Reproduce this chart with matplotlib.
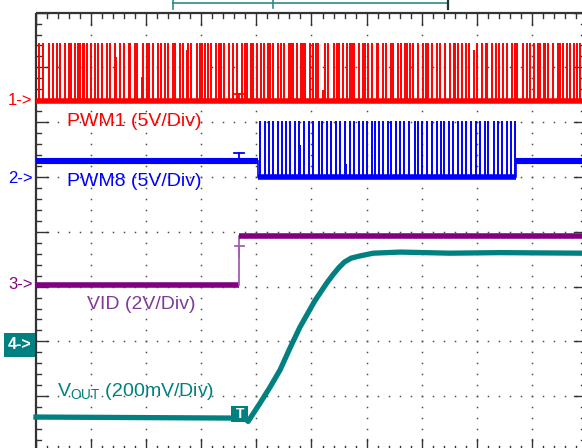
import matplotlib
matplotlib.use("Agg")
import matplotlib.pyplot as plt
import numpy as np
from matplotlib.patches import Rectangle

plt.rcParams['font.family'] = ['Liberation Sans', 'DejaVu Sans']

# ---------------- data (time and level in screen divisions) ----------------
channel_names = ["1->", "2->", "3->", "4->"]
channel_levels = [6.39, 4.98, 3.03, 2.01]
channel_colors = ["#ff0000", "#0000ff", "#800080", "#008080"]

trigger_t = 3.69

# PWM1: pulse times, baseline, amplitude
pwm1_base = 6.39
pwm1_amp = 1.06
pwm1_t = [0.05, 0.12, 0.23, 0.30, 0.38, 0.44, 0.52, 0.60, 0.63, 0.70, 0.77, 0.80,
          0.86, 0.88, 0.92, 1.00, 1.08, 1.13, 1.19, 1.28, 1.34, 1.43, 1.52, 1.60,
          1.68, 1.71, 1.79, 1.84, 1.95, 2.01, 2.06, 2.13, 2.21, 2.26, 2.34, 2.40,
          2.48, 2.53, 2.61, 2.67, 2.76, 2.82, 2.92, 2.98, 3.01, 3.07, 3.12, 3.18,
          3.27, 3.33, 3.36, 3.42, 3.51, 3.57, 3.65, 3.73, 3.79, 3.83, 3.91, 3.93,
          4.02, 4.08, 4.13, 4.21, 4.25, 4.31, 4.39, 4.44, 4.51, 4.59, 4.63, 4.67,
          4.73, 4.81, 4.85, 4.89, 4.97, 5.02, 5.08, 5.12, 5.25, 5.30, 5.40, 5.46,
          5.50, 5.58, 5.64, 5.70, 5.74, 5.77, 5.86, 5.94, 5.98, 6.03, 6.10, 6.18,
          6.21, 6.29, 6.36, 6.44, 6.48, 6.57, 6.62, 6.69, 6.73, 6.79, 6.85, 6.93,
          7.03, 7.07, 7.11, 7.19, 7.27, 7.34, 7.42, 7.51, 7.59, 7.61, 7.66, 7.73,
          7.80, 7.86, 8.01, 8.09, 8.17, 8.19, 8.28, 8.34, 8.41, 8.48, 8.54, 8.64,
          8.69, 8.73, 8.84, 8.91, 8.97, 9.04, 9.11, 9.15, 9.22, 9.24, 9.30, 9.39,
          9.47, 9.51, 9.57, 9.64, 9.70, 9.76, 9.81, 9.87]
pwm1_partial_t = [1.45, 1.92, 2.74, 5.21, 7.94]
pwm1_partial_h = [0.75, 0.41, 0.88, 0.18, 0.88]

# PWM8: idle level, burst window, pulse times
pwm8_base = 5.00
pwm8_idle = 5.29
pwm8_amp = 1.02
pwm8_burst = [4.03, 8.71]
pwm8_t = [4.07, 4.15, 4.22, 4.31, 4.39, 4.46, 4.54, 4.61, 4.70, 4.78, 4.86, 4.96,
          5.03, 5.13, 5.19, 5.29, 5.36, 5.44, 5.52, 5.60, 5.69, 5.77, 5.86, 5.94,
          6.00, 6.10, 6.15, 6.22, 6.30, 6.39, 6.44, 6.54, 6.60, 6.68, 6.77, 6.87,
          6.94, 7.01, 7.10, 7.18, 7.27, 7.35, 7.41, 7.50, 7.57, 7.65, 7.74, 7.81,
          7.89, 7.98, 8.06, 8.15, 8.21, 8.31, 8.38, 8.46, 8.55, 8.62, 8.69]
pwm8_partial_t = [4.80, 5.63]
pwm8_partial_h = [0.57, 0.23]

# VID step
vid_low = 3.03
vid_high = 3.92

# VOUT soft-start ramp
vout_t = [0.00, 3.79, 3.85, 4.07, 4.25, 4.43, 4.61, 4.79, 5.06, 5.28, 5.40, 5.50,
          5.60, 5.72, 5.88, 6.12, 6.61, 7.51, 8.42, 9.91]
vout_v = [0.62, 0.60, 0.54, 0.88, 1.17, 1.48, 1.88, 2.26, 2.74, 3.07, 3.23, 3.35,
          3.45, 3.52, 3.56, 3.61, 3.63, 3.61, 3.62, 3.61]

labels = ["PWM1 (5V/Div)", "PWM8 (5V/Div)", "VID (2V/Div)",
          r"V$_{\mathregular{OUT}}$ (200mV/Div)"]
label_pos = [(0.563, 6.02), (0.563, 4.92), (0.926, 2.68), (0.381, 1.08)]
label_colors = ["#ff0000", "#0000ff", "#7d3c98", "#008080"]

# ---------------- figure ----------------
fig = plt.figure(figsize=(5.82, 4.48), dpi=100)
ax = fig.add_axes([0, 0, 1, 1])
ax.set_xlim(-0.653, 9.909)
ax.set_ylim(0.055, 8.230)
ax.axis("off")

# graticule dots
dot_c = "#505050"
for k in range(1, 10):
    yy = np.arange(0, 8.01, 0.2)
    ax.plot(np.full_like(yy, k), yy, ls="none", marker="s", ms=1.1,
            mec="none", mfc=dot_c, zorder=1)
for k in range(1, 8):
    xx = np.arange(0, 10.01, 0.2)
    ax.plot(xx, np.full_like(xx, k), ls="none", marker="s", ms=1.1,
            mec="none", mfc=dot_c, zorder=1)

# borders with ticks
bc = "#333333"
ax.plot([0, 0], [0, 8], color=bc, lw=1.6, zorder=2, solid_capstyle="butt")
ax.plot([0, 10], [8, 8], color=bc, lw=1.6, zorder=2, solid_capstyle="butt")
for j in range(0, 41):
    y = 0.2 * j
    L = 0.22 if j % 5 == 0 else 0.09
    ax.plot([0, L], [y, y], color=bc, lw=1.0, zorder=2)
    ax.plot([10, 10 - L - 0.02], [y, y], color=bc, lw=1.0, zorder=2)
for j in range(0, 51):
    x = 0.2 * j
    L = 0.22 if j % 5 == 0 else 0.09
    ax.plot([x, x], [8, 8 - L], color=bc, lw=1.0, zorder=2)
    ax.plot([x, x], [0, L], color=bc, lw=1.0, zorder=2)

# top record bracket
tc = "#2e8b87"
ax.plot([2.486, 7.477], [8.175, 8.175], color=tc, lw=1.2, clip_on=False)
ax.plot([2.486, 2.486], [8.23, 8.07], color=tc, lw=1.2)
ax.plot([4.30, 4.30], [8.23, 8.08], color=tc, lw=1.2)
ax.plot([7.477, 7.477], [8.23, 8.06], color="#223333", lw=1.6)

# PWM1
c1 = channel_colors[0]
ax.plot([0, 9.91], [pwm1_base, pwm1_base], color=c1, lw=4.0, zorder=4,
        solid_capstyle="butt")
ax.vlines(pwm1_t, pwm1_base, pwm1_base + pwm1_amp, color=c1, lw=1.4, zorder=4)
ax.vlines(pwm1_partial_t, pwm1_base,
          pwm1_base + np.array(pwm1_partial_h) * pwm1_amp, color=c1, lw=1.4,
          zorder=4)

# PWM8
c2 = channel_colors[1]
ax.plot([0, pwm8_burst[0]], [pwm8_idle, pwm8_idle], color=c2, lw=4.4, zorder=4,
        solid_capstyle="butt")
ax.plot([pwm8_burst[1], 9.91], [pwm8_idle, pwm8_idle], color=c2, lw=4.4,
        zorder=4, solid_capstyle="butt")
ax.plot([pwm8_burst[0], pwm8_burst[0]], [pwm8_idle, pwm8_base], color=c2, lw=1.2)
ax.plot([pwm8_burst[1], pwm8_burst[1]], [pwm8_idle, pwm8_base], color=c2, lw=1.2)
ax.plot(pwm8_burst, [pwm8_base, pwm8_base], color=c2, lw=4.0, zorder=4,
        solid_capstyle="butt")
ax.vlines(pwm8_t, pwm8_base, pwm8_base + pwm8_amp, color=c2, lw=1.4, zorder=4)
ax.vlines(pwm8_partial_t, pwm8_base,
          pwm8_base + np.array(pwm8_partial_h) * pwm8_amp, color=c2, lw=1.4,
          zorder=4)

# VID
c3 = channel_colors[2]
ax.plot([0, trigger_t], [vid_low, vid_low], color=c3, lw=4.0, zorder=4,
        solid_capstyle="butt")
ax.plot([trigger_t, trigger_t], [vid_low, vid_high], color="#a060b0", lw=1.3,
        zorder=4)
ax.plot([trigger_t, 9.91], [vid_high, vid_high], color=c3, lw=4.0, zorder=4,
        solid_capstyle="butt")

# VOUT
c4 = channel_colors[3]
ax.plot(vout_t, vout_v, color=c4, lw=3.8, zorder=4, solid_joinstyle="round")

# trigger markers
for base, col in [(pwm1_base + 0.12, c1), (pwm8_idle + 0.15, c2)]:
    ax.plot([trigger_t - 0.09, trigger_t + 0.09], [base, base], color=col, lw=1.3,
            zorder=5)
    ax.plot([trigger_t, trigger_t], [base, base - 0.1], color=col, lw=1.3, zorder=5)
ax.plot([trigger_t - 0.08, trigger_t + 0.08], [3.74, 3.74], color="#a060b0",
        lw=1.3, zorder=5)
ax.plot([trigger_t - 0.01, trigger_t - 0.01], [3.74, 3.54], color="#a060b0",
        lw=1.3, zorder=5)
ax.add_patch(Rectangle((3.54, 0.53), 0.31, 0.29, facecolor=c4, edgecolor="none",
                       zorder=6))
ax.text(3.695, 0.675, "T", color="white", fontsize=10, fontweight="bold",
        ha="center", va="center", zorder=7)

# channel markers
for i, (nm, lv, col) in enumerate(zip(channel_names, channel_levels,
                                      channel_colors)):
    if i < 3:
        ax.text(-0.06, lv, nm, color=col, fontsize=12, ha="right", va="center",
                zorder=6)
    else:
        ax.add_patch(Rectangle((-0.58, lv - 0.29), 0.56, 0.44, facecolor=col,
                               edgecolor="none", zorder=6, clip_on=False))
        ax.text(-0.30, lv - 0.07, nm, color="white", fontsize=11.5,
                fontweight="bold", ha="center", va="center", zorder=7)

# channel labels
for txt, (x, y), col in zip(labels, label_pos, label_colors):
    ax.text(x, y, txt, color=col, fontsize=14, ha="left", va="center", zorder=6)

fig.savefig("out.png", dpi=100)
